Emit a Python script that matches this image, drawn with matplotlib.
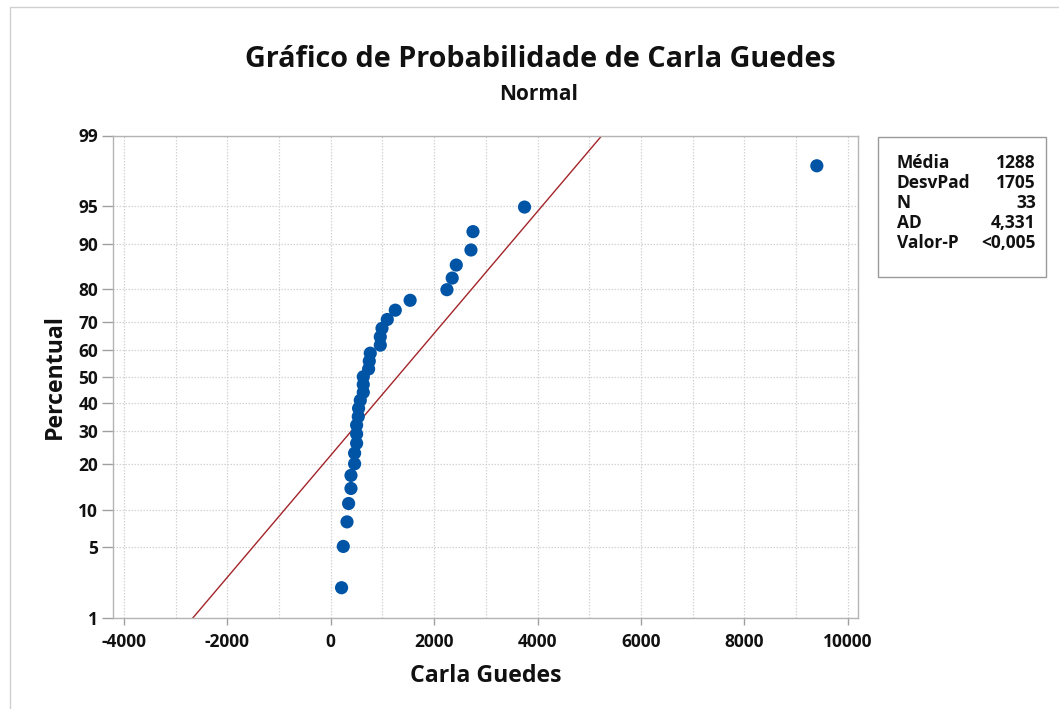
import numpy as np
import matplotlib
matplotlib.use("Agg")
import matplotlib.pyplot as plt
from matplotlib.lines import Line2D
from matplotlib.patches import Rectangle
from statistics import NormalDist

# ---- data ----
values = [209, 242, 314, 345, 391, 391, 461, 461, 500, 500, 500, 532, 538, 571,
          629, 629, 629, 732, 745, 764, 958, 958, 991, 1093, 1248, 1535, 2247,
          2349, 2428, 2712, 2751, 3748, 9403]
stat_labels = ["Média", "DesvPad", "N", "AD", "Valor-P"]
stat_values = ["1288", "1705", "33", "4,331", "<0,005"]
y_ticks = [1, 5, 10, 20, 30, 40, 50, 60, 70, 80, 90, 95, 99]
x_ticks = list(range(-4000, 10001, 2000))
x_grid = list(range(-4000, 10001, 1000))

plt.rcParams['font.family'] = ['Open Sans', 'DejaVu Sans']

nd = NormalDist()
_ppf = np.vectorize(lambda p: nd.inv_cdf(p) if 0 < p < 1 else np.nan, otypes=[float])
_cdf = np.vectorize(lambda z: nd.cdf(z), otypes=[float])


def fwd(p):
    p = np.clip(np.asarray(p, float) / 100.0, 1e-9, 1 - 1e-9)
    return _ppf(p)


def inv(z):
    return _cdf(np.asarray(z, float)) * 100.0


x = np.sort(np.array(values, float))
n = len(x)
ranks = np.arange(1, n + 1)
pct = (ranks - 0.3) / (n + 0.4) * 100
mean = x.mean()
sd = x.std(ddof=1)

W, H = 1059, 709
fig = plt.figure(figsize=(W / 100, H / 100), dpi=100)
ax = fig.add_axes([113.3 / W, 1 - 618 / H, (858.3 - 113.3) / W, (618 - 135.5) / H])
ax.set_yscale('function', functions=(fwd, inv))

grid_kw = dict(color='#D4D4D4', lw=0.9, ls=(0, (1.2, 1.2)), zorder=0)
for g in x_grid:
    ax.axvline(g, **grid_kw)
for g in y_ticks:
    ax.axhline(g, **grid_kw)

lp = np.linspace(1, 99, 300)
lx = mean + sd * fwd(lp)
ax.plot(lx, lp, color='#A3252A', lw=1.0, zorder=2)
ax.scatter(x, pct, s=90, color='#0054A5', edgecolors='none', zorder=3, clip_on=False)

ax.set_xlim(-4207, 10205)
ax.set_ylim(1, 99)
ax.set_xticks(x_ticks)
ax.set_xticklabels([str(t) for t in x_ticks])
ax.set_yticks(y_ticks)
ax.set_yticklabels([str(t) for t in y_ticks])
ax.minorticks_off()

for s in ax.spines.values():
    s.set_color('#B4B4B4')
    s.set_linewidth(1.0)
ax.tick_params(axis='x', length=5, width=1, color='#A0A0A0', pad=6,
               labelsize=12.5, labelcolor='#111111')
ax.tick_params(axis='y', length=8, width=1, color='#A0A0A0', pad=3,
               labelsize=12.5, labelcolor='#111111')
for lab in ax.get_xticklabels() + ax.get_yticklabels():
    lab.set_fontweight('bold')

ax.set_xlabel('Carla Guedes', fontsize=16.7, fontweight='bold', color='#111111', labelpad=9)
ax.set_ylabel('Percentual', fontsize=16.7, fontweight='bold', color='#111111', labelpad=8)

fig.text(540 / W, 1 - 67 / H, 'Gráfico de Probabilidade de Carla Guedes', ha='center',
         va='baseline', fontsize=20.7, fontweight='bold', color='#111111')
fig.text(539 / W, 1 - 100 / H, 'Normal', ha='center', va='baseline', fontsize=15,
         fontweight='bold', color='#111111')

# statistics box
fig.patches.append(Rectangle((878.3 / W, 1 - 276.7 / H), (1045.7 - 878.3) / W,
                             (276.7 - 137.3) / H, transform=fig.transFigure,
                             facecolor='white', edgecolor='#9A9A9A', lw=1.0))
for i, (lab, val) in enumerate(zip(stat_labels, stat_values)):
    yb = 1 - (167.5 + i * 20.25) / H
    fig.text(896.7 / W, yb, lab, ha='left', va='baseline', fontsize=12.5,
             fontweight='bold', color='#111111')
    fig.text(1035.7 / W, yb, val, ha='right', va='baseline', fontsize=12.5,
             fontweight='bold', color='#111111')

# outer graph frame (only top/left visible)
fig.add_artist(Line2D([9.5 / W, 9.5 / W, 1.0], [0.0, 1 - 7 / H, 1 - 7 / H],
                      transform=fig.transFigure, color='#D0D0D0', lw=1.0))

fig.savefig('out.png', dpi=100, facecolor='white')
